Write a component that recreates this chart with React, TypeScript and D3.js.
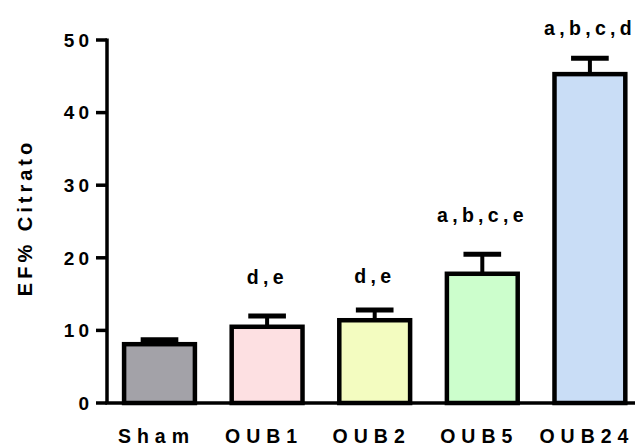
import React from "react";
import * as d3 from "d3";

// Group means and upper error (mean + SEM) for citrate EF%
const groups = ["Sham", "OUB1", "OUB2", "OUB5", "OUB24"];
const means = [8.1, 10.5, 11.4, 17.8, 45.3];
const upper = [8.7, 12.0, 12.8, 20.5, 47.5];
// Significance letters and the EF% level their baseline sits at
const letters = ["", "d,e", "d,e", "a,b,c,e", "a,b,c,d"];
const letterLevel = [0, 16.4, 16.5, 24.9, 50.7];
const fills = ["#a3a2a8", "#fde0e2", "#f3fcc0", "#ccfecc", "#c9ddf6"];
const yTicks = [0, 10, 20, 30, 40, 50];

const W = 635;
const H = 446;
const FONT = "'Liberation Sans', Arial, sans-serif";

// Letter-spaced text whose box ends at the last glyph (no trailing spacing)
function Spaced(props: {
  x: number;
  y: number;
  text: string;
  size: number;
  spacing: number;
  anchor: "start" | "middle" | "end";
  transform?: string;
}) {
  const { x, y, text, size, spacing, anchor, transform } = props;
  const head = text.slice(0, -1);
  const last = text.slice(-1);
  return (
    <text
      x={x}
      y={y}
      transform={transform}
      textAnchor={anchor}
      fontFamily={FONT}
      fontWeight="bold"
      fontSize={size}
      fill="#000"
      style={{ whiteSpace: "pre" }}
    >
      <tspan letterSpacing={spacing}>{head}</tspan>
      <tspan letterSpacing={0}>{last}</tspan>
    </text>
  );
}

export default function App() {
  const y = d3.scaleLinear().domain([0, 50]).range([403, 40]);
  const x = d3
    .scaleBand<string>()
    .domain(groups)
    .range([105.7, 643.7])
    .paddingInner(0.3)
    .paddingOuter(0.15);
  const bw = x.bandwidth();
  const axisX = 107;
  const sw = 4.5;

  return (
    <svg
      width={W}
      height={H}
      style={{ position: "absolute", left: 0, top: 0, background: "#fff" }}
    >
      {/* bars with SEM bars and significance letters */}
      {groups.map((g, i) => {
        const x0 = x(g)! + sw / 2;
        const cx = x(g)! + bw / 2;
        const top = y(means[i]);
        const et = y(upper[i]);
        return (
          <g key={g}>
            <line x1={cx} x2={cx} y1={top} y2={et} stroke="#000" strokeWidth={4} />
            <line
              x1={cx - bw / 4}
              x2={cx + bw / 4}
              y1={et}
              y2={et}
              stroke="#000"
              strokeWidth={5}
            />
            <rect
              x={x0}
              y={top}
              width={bw - sw}
              height={y(0) - top}
              fill={fills[i]}
              stroke="#000"
              strokeWidth={sw}
            />
            {letters[i] && (
              <Spaced
                x={cx - 2}
                y={y(letterLevel[i])}
                text={letters[i]}
                size={19.5}
                spacing={4.3}
                anchor="middle"
              />
            )}
            <Spaced x={cx - 6} y={443} text={g} size={19.5} spacing={6} anchor="middle" />
          </g>
        );
      })}

      {/* y axis */}
      <line x1={axisX} x2={axisX} y1={y(50) - 1.5} y2={y(0)} stroke="#000" strokeWidth={3.5} />
      <line x1={axisX - 1.75} x2={W} y1={y(0)} y2={y(0)} stroke="#000" strokeWidth={3.5} />
      {yTicks.map((t) => (
        <g key={t}>
          <line x1={axisX - 11} x2={axisX} y1={y(t)} y2={y(t)} stroke="#000" strokeWidth={3.5} />
          <Spaced
            x={89}
            y={y(t) + 6.8}
            text={String(t)}
            size={19}
            spacing={4}
            anchor="end"
          />
        </g>
      ))}

      <Spaced
        x={0}
        y={0}
        transform={`translate(32, ${y(25) - 2}) rotate(-90)`}
        text="EF% Citrato"
        size={20}
        spacing={4}
        anchor="middle"
      />
    </svg>
  );
}
